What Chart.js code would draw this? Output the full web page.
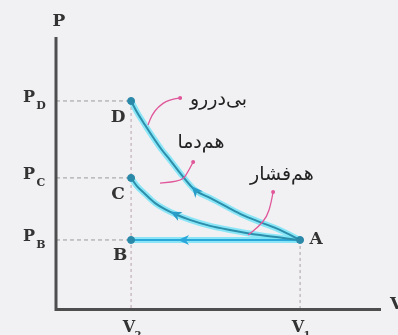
<!DOCTYPE html>
<html><head><meta charset="utf-8">
<script src="https://cdn.jsdelivr.net/npm/chart.js@4/dist/chart.umd.min.js"></script>
<style>html,body{margin:0;padding:0;background:#f1f1f4;}canvas{display:block}</style>
</head><body>
<canvas id="c" width="398" height="335"></canvas>
<script>
// ---- data (arbitrary units) ----
const adiabaticV = [2.31, 2.49, 2.74, 2.98, 3.26, 3.51, 3.82, 4.28, 4.74, 5.26, 5.75, 6.28, 6.89, 7.51];
const adiabaticP = [7.64, 7.23, 6.75, 6.31, 5.83, 5.46, 4.98, 4.35, 4.06, 3.73, 3.43, 3.17, 2.88, 2.51];
const isothermV  = [2.31, 2.49, 2.74, 3.05, 3.35, 3.66, 4.12, 4.74, 5.35, 6.28, 7.51];
const isothermP  = [4.80, 4.50, 4.21, 3.87, 3.65, 3.47, 3.25, 3.03, 2.88, 2.69, 2.51];
const isobarV    = [2.31, 7.51];
const isobarP    = [2.51, 2.51];

const stateNames = ['D', 'C', 'B', 'A'];
const stateV     = [2.31, 2.31, 2.31, 7.51];
const stateP     = [7.64, 4.80, 2.51, 2.51];

const pTickValues = [7.64, 4.80, 2.51];
const pTickSubs   = ['D', 'C', 'B'];
const vTickValues = [2.31, 7.51];
const vTickSubs   = ['2', '1'];

// Persian labels (adiabatic, isothermal, isobaric), written with contextual presentation forms
const processLabels = [
  '\uFE91\uFEF0\u200C\uFEA9\uFEAD\uFEAD\uFEED',      // بی‌دررو
  '\uFEEB\uFEE2\u200C\uFEA9\uFEE3\uFE8E',            // هم‌دما
  '\uFEEB\uFEE2\u200C\uFED3\uFEB8\uFE8E\uFEAD'       // هم‌فشار
];
const processLabelV = [5.00, 4.46, 6.95];
const processLabelP = [7.66, 6.09, 4.91];
// pink pointer paths (data units)
const pointerAdiabaticV = [3.82, 3.45, 3.14, 2.95, 2.83];
const pointerAdiabaticP = [7.75, 7.68, 7.42, 7.12, 6.75];
const pointerIsothermV  = [4.22, 4.06, 3.88, 3.20];
const pointerIsothermP  = [5.39, 5.02, 4.69, 4.61];
const pointerIsobarV    = [6.68, 6.62, 6.49, 6.22, 5.91];
const pointerIsobarP    = [4.28, 3.87, 3.36, 2.99, 2.69];
// direction arrows along each process (volume where the arrow sits)
const arrowV = [4.28, 3.66, 3.91];

const toPts = (vs, ps) => vs.map((v, i) => ({x: v, y: ps[i]}));

const CORE = '#2c8eab', HALO = 'rgba(120,228,246,0.85)';
const CORE_B = '#2aa7d8';
function pair(vs, ps, core) {
  return [
    {data: toPts(vs, ps), showLine: true, borderColor: core, borderWidth: 2, pointRadius: 0,
     cubicInterpolationMode: 'monotone', tension: 0.4, order: 0},
    {data: toPts(vs, ps), showLine: true, borderColor: HALO, borderWidth: 6, pointRadius: 0,
     cubicInterpolationMode: 'monotone', tension: 0.4, order: 2}
  ];
}
const datasets = [
  ...pair(adiabaticV, adiabaticP, CORE),
  ...pair(isothermV, isothermP, CORE),
  ...pair(isobarV, isobarP, CORE_B),
  {data: toPts(stateV, stateP), showLine: false, pointRadius: 3.5, pointBackgroundColor: '#2a88a8',
   pointBorderColor: '#2a88a8', order: -1}
];

function interp(vs, ps, v) {
  for (let i = 0; i < vs.length - 1; i++) {
    if (v >= vs[i] && v <= vs[i + 1]) {
      const t = (v - vs[i]) / (vs[i + 1] - vs[i]);
      return {p: ps[i] + t * (ps[i + 1] - ps[i]), i};
    }
  }
  return {p: ps[0], i: 0};
}

const deco = {
  id: 'deco',
  beforeDraw(c) {
    const ctx = c.ctx;
    ctx.save(); ctx.fillStyle = '#f1f1f4'; ctx.fillRect(0, 0, c.width, c.height); ctx.restore();
  },
  beforeDatasetsDraw(c) {
    const ctx = c.ctx, X = c.scales.x, Y = c.scales.y, a = c.chartArea;
    ctx.save();
    ctx.lineWidth = 1; ctx.setLineDash([4, 3]); ctx.strokeStyle = '#9a9a9a';
    pTickValues.forEach(p => {
      ctx.beginPath(); ctx.moveTo(a.left, Y.getPixelForValue(p));
      ctx.lineTo(X.getPixelForValue(vTickValues[0]), Y.getPixelForValue(p)); ctx.stroke();
    });
    ctx.strokeStyle = '#b8a0aa'; ctx.setLineDash([3, 3]);
    ctx.beginPath(); ctx.moveTo(X.getPixelForValue(vTickValues[0]), Y.getPixelForValue(pTickValues[0]));
    ctx.lineTo(X.getPixelForValue(vTickValues[0]), a.bottom); ctx.stroke();
    ctx.strokeStyle = '#a8a0a4';
    ctx.beginPath(); ctx.moveTo(X.getPixelForValue(vTickValues[1]), Y.getPixelForValue(isobarP[1]));
    ctx.lineTo(X.getPixelForValue(vTickValues[1]), a.bottom); ctx.stroke();
    ctx.setLineDash([]);
    ctx.strokeStyle = '#4e4e4e'; ctx.lineWidth = 3;
    ctx.beginPath(); ctx.moveTo(a.left, a.top); ctx.lineTo(a.left, a.bottom + 1.5);
    ctx.lineTo(a.right, a.bottom + 1.5); ctx.stroke();
    ctx.restore();
  },
  afterDatasetsDraw(c) {
    const ctx = c.ctx, X = c.scales.x, Y = c.scales.y, a = c.chartArea;
    const px = v => X.getPixelForValue(v), py = p => Y.getPixelForValue(p);
    ctx.save();
    const series = [[adiabaticV, adiabaticP, CORE], [isothermV, isothermP, CORE], [isobarV, isobarP, CORE_B]];
    series.forEach((s, k) => {
      const r = interp(s[0], s[1], arrowV[k]);
      const x0 = px(arrowV[k]), y0 = py(r.p);
      const x1 = px(s[0][r.i]), y1 = py(s[1][r.i]);
      let dx = x1 - x0, dy = y1 - y0; const L = Math.hypot(dx, dy) || 1; dx /= L; dy /= L;
      const len = 11, w = 5;
      const tx = x0 + dx * 5, ty = y0 + dy * 5;
      ctx.fillStyle = s[2] === CORE ? '#2a9cc8' : '#2aa7d8';
      ctx.beginPath(); ctx.moveTo(tx, ty);
      ctx.lineTo(tx - dx * len - dy * w, ty - dy * len + dx * w);
      ctx.lineTo(tx - dx * len * 0.7, ty - dy * len * 0.7);
      ctx.lineTo(tx - dx * len + dy * w, ty - dy * len - dx * w);
      ctx.closePath(); ctx.fill();
    });
    const pointers = [[pointerAdiabaticV, pointerAdiabaticP], [pointerIsothermV, pointerIsothermP], [pointerIsobarV, pointerIsobarP]];
    ctx.strokeStyle = '#e0579a'; ctx.fillStyle = '#e0579a'; ctx.lineWidth = 1.3;
    pointers.forEach(pt => {
      const P = pt[0].map((v, i) => [px(v), py(pt[1][i])]);
      ctx.beginPath(); ctx.moveTo(P[0][0], P[0][1]);
      for (let i = 1; i < P.length - 1; i++) {
        const mx = (P[i][0] + P[i + 1][0]) / 2, my = (P[i][1] + P[i + 1][1]) / 2;
        ctx.quadraticCurveTo(P[i][0], P[i][1], mx, my);
      }
      ctx.lineTo(P[P.length - 1][0], P[P.length - 1][1]); ctx.stroke();
      ctx.beginPath(); ctx.arc(P[0][0], P[0][1], 2, 0, Math.PI * 2); ctx.fill();
    });
    ctx.fillStyle = '#222'; ctx.font = '19px "DejaVu Sans"';
    ctx.textAlign = 'center'; ctx.textBaseline = 'middle';
    processLabels.forEach((t, i) => ctx.fillText(t, px(processLabelV[i]), py(processLabelP[i])));
    ctx.font = 'bold 17px "DejaVu Serif"'; ctx.fillStyle = '#333';
    const offs = [[-13, 17], [-13, 17], [-11, 16], [16, 0]];
    stateNames.forEach((n, i) => ctx.fillText(n, px(stateV[i]) + offs[i][0], py(stateP[i]) + offs[i][1]));
    pTickValues.forEach((p, i) => {
      const y = py(p);
      ctx.font = 'bold 16px "DejaVu Serif"'; ctx.textAlign = 'center';
      ctx.fillText('P', 29, y - 3);
      ctx.font = 'bold 11px "DejaVu Serif"';
      ctx.fillText(pTickSubs[i], 41, y + 5);
    });
    vTickValues.forEach((v, i) => {
      const x = px(v);
      ctx.font = 'bold 16px "DejaVu Serif"'; ctx.textAlign = 'center';
      ctx.fillText('V', x - 2, a.bottom + 20);
      ctx.font = 'bold 10px "DejaVu Serif"';
      ctx.fillText(vTickSubs[i], x + 7, a.bottom + 27);
    });
    ctx.font = 'bold 17px "DejaVu Serif"'; ctx.textAlign = 'center';
    ctx.fillText('P', a.left + 3, a.top - 15);
    ctx.textAlign = 'left';
    ctx.fillText('V', a.right + 9, a.bottom - 3);
    ctx.restore();
  }
};

new Chart(document.getElementById('c'), {
  type: 'scatter',
  data: {datasets},
  options: {
    responsive: false, animation: false,
    layout: {padding: {left: 56, top: 37, right: 17, bottom: 27}},
    plugins: {legend: {display: false}, tooltip: {enabled: false}},
    scales: {
      x: {type: 'linear', min: 0, max: 10, display: false},
      y: {type: 'linear', min: 0, max: 10, display: false}
    }
  },
  plugins: [deco]
});
</script>
</body></html>
